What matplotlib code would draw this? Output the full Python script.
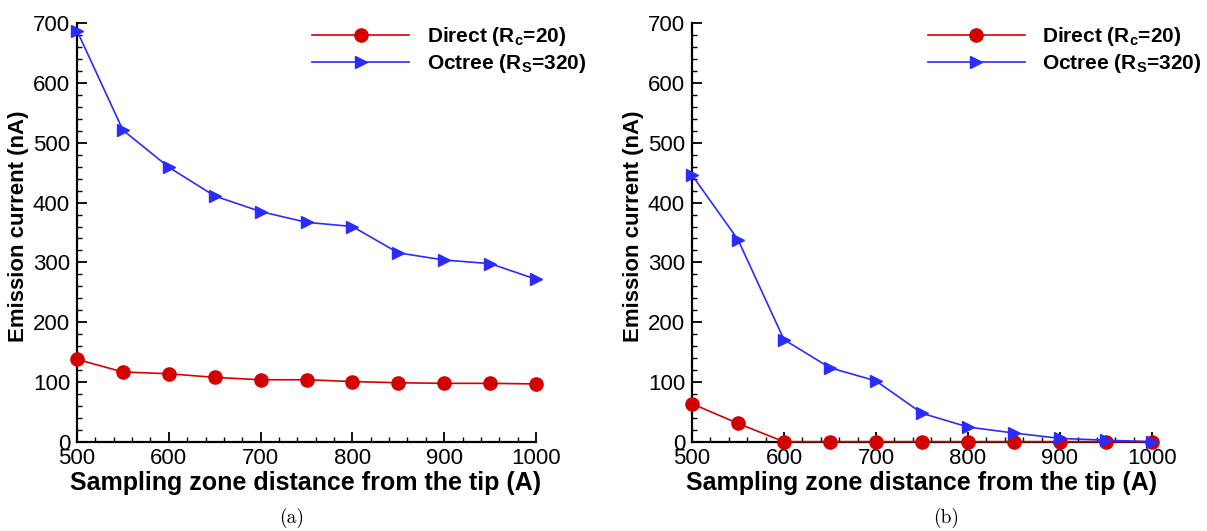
import matplotlib
matplotlib.use("Agg")
import matplotlib.pyplot as plt
from matplotlib.ticker import MultipleLocator

plt.rcParams['font.family'] = ['Liberation Sans', 'DejaVu Sans']
plt.rcParams['mathtext.fontset'] = 'custom'
plt.rcParams['mathtext.rm'] = 'Liberation Sans'
plt.rcParams['mathtext.bf'] = 'Liberation Sans:bold'

distance = [500, 550, 600, 650, 700, 750, 800, 850, 900, 950, 1000]

direct_a = [138, 117, 114, 108, 104, 104, 101, 99, 98, 98, 97]
octree_a = [687, 521, 459, 411, 385, 367, 360, 316, 304, 298, 272]

direct_b = [64, 31, 0.5, 0.5, 0.5, 0.5, 0.5, 0.5, 0.5, 0.5, 0.5]
octree_b = [446, 338, 171, 124, 102, 48, 25, 15, 6, 3, 0.5]

label_direct = r'Direct (R$_\mathbf{c}$=20)'
label_octree = r'Octree (R$_\mathbf{S}$=320)'
xlabel = 'Sampling zone distance from the tip (A)'
ylabel = 'Emission current (nA)'
captions = ['(a)', '(b)']

RED = '#d40000'
BLUE = '#2b2bff'

W, H = 1207, 531
fig = plt.figure(figsize=(W / 100, H / 100), dpi=100)

def frac_box(x0, x1, ytop, ybot):
    return [x0 / W, 1 - ybot / H, (x1 - x0) / W, (ybot - ytop) / H]

positions = [frac_box(77, 536, 23, 442), frac_box(692, 1152, 23, 442)]
datasets = [(direct_a, octree_a), (direct_b, octree_b)]
caption_x = [292 / W, 946 / W]

for pos, (d, o), cap, cx in zip(positions, datasets, captions, caption_x):
    ax = fig.add_axes(pos)
    ax.plot(distance, d, color=RED, marker='o', markersize=9.5, lw=1.2,
            label=label_direct, clip_on=False, zorder=3)
    ax.plot(distance, o, color=BLUE, marker='>', markersize=8.5, lw=1.2,
            label=label_octree, clip_on=False, zorder=3)
    ax.set_xlim(500, 1000)
    ax.set_ylim(0, 700)
    ax.xaxis.set_major_locator(MultipleLocator(100))
    ax.xaxis.set_minor_locator(MultipleLocator(20))
    ax.yaxis.set_major_locator(MultipleLocator(100))
    ax.yaxis.set_minor_locator(MultipleLocator(20))
    ax.spines['top'].set_visible(False)
    ax.spines['right'].set_visible(False)
    ax.spines['left'].set_linewidth(1.6)
    ax.spines['bottom'].set_linewidth(1.6)
    ax.tick_params(which='major', direction='in', length=7, width=1.3,
                   labelsize=16)
    ax.tick_params(axis='y', which='major', pad=5)
    ax.tick_params(axis='x', which='major', pad=4)
    ax.tick_params(which='minor', direction='in', length=3.8, width=1.0)
    ax.set_xlabel(xlabel, fontsize=18, fontweight='bold')
    ax.set_ylabel(ylabel, fontsize=16, fontweight='bold')
    ax.xaxis.set_label_coords(0.498, -0.069)
    ax.yaxis.set_label_coords(-0.105, 0.514)
    ax.legend(loc='upper left', bbox_to_anchor=(0.512, 0.995), frameon=False,
              prop={'weight': 'bold', 'size': 15}, handlelength=4.66,
              handletextpad=0.85, labelspacing=0.2, borderpad=0,
              borderaxespad=0)
    fig.text(cx, 1 - 518 / H, cap, fontname='cmr10', fontsize=14,
             ha='center', va='center')

fig.savefig('out.png', dpi=100)
